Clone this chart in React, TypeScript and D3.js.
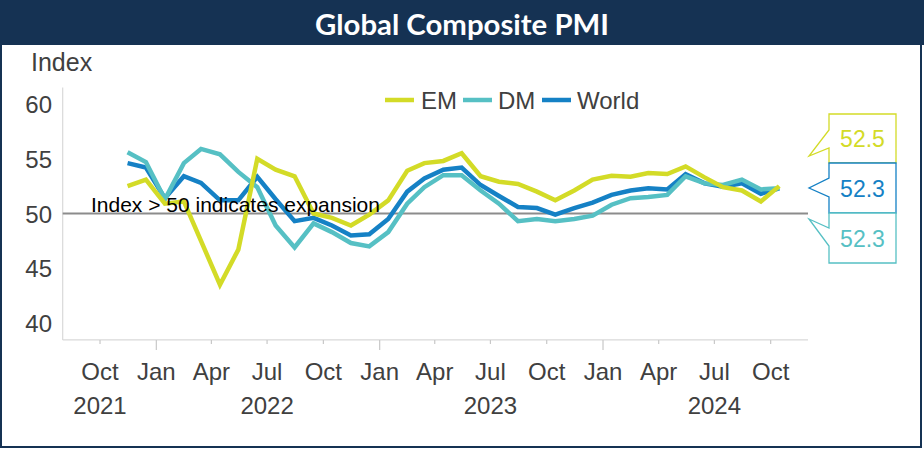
import React from "react";
import * as d3 from "d3";

const months = [
  "2021-11","2021-12","2022-01","2022-02","2022-03","2022-04","2022-05","2022-06","2022-07","2022-08","2022-09","2022-10",
  "2022-11","2022-12","2023-01","2023-02","2023-03","2023-04","2023-05","2023-06","2023-07","2023-08","2023-09","2023-10",
  "2023-11","2023-12","2024-01","2024-02","2024-03","2024-04","2024-05","2024-06","2024-07","2024-08","2024-09","2024-10",
];
const em = [
  52.5, 53.1, 50.9, 51.1, 47.5, 43.5, 46.7, 55.0, 54.0, 53.4, 50.0, 49.6,
  48.9, 49.9, 51.2, 53.9, 54.6, 54.8, 55.5, 53.4, 52.9, 52.7, 52.0, 51.2,
  52.1, 53.1, 53.45, 53.35, 53.7, 53.6, 54.3, 53.3, 52.4, 52.1, 51.1, 52.5,
];
const dm = [
  55.6, 54.7, 51.3, 54.6, 55.9, 55.4, 53.8, 52.4, 48.9, 46.9, 49.1, 48.3,
  47.3, 47.0, 48.3, 50.9, 52.4, 53.5, 53.5, 52.1, 50.9, 49.3, 49.5, 49.3,
  49.5, 49.8, 50.8, 51.4, 51.5, 51.7, 53.4, 52.75, 52.6, 53.1, 52.2, 52.3,
];
const world = [
  54.6, 54.2, 51.4, 53.4, 52.8, 51.2, 51.2, 53.35, 51.3, 49.3, 49.6, 48.9,
  48.0, 48.1, 49.5, 52.0, 53.2, 54.0, 54.2, 52.6, 51.6, 50.6, 50.5, 49.9,
  50.5, 51.0, 51.7, 52.1, 52.3, 52.2, 53.6, 52.75, 52.45, 52.75, 51.8, 52.3,
];
const seriesNames = ["EM", "DM", "World"];
const yTicks = [40, 45, 50, 55, 60];
const xTickMonths = [
  "2021-10","2022-01","2022-04","2022-07","2022-10","2023-01","2023-04","2023-07","2023-10","2024-01","2024-04","2024-07","2024-10",
];
const xTickLabels = ["Oct","Jan","Apr","Jul","Oct","Jan","Apr","Jul","Oct","Jan","Apr","Jul","Oct"];
const yearLabels = ["2021", "2022", "2023", "2024"];
const yearLabelMonths = ["2021-10", "2022-07", "2023-07", "2024-07"];
const threshold = 50;

const COLORS: Record<string, string> = { EM: "#d3db27", DM: "#56c0c4", World: "#1581c5" };
const FONT = "'Liberation Sans', Arial, sans-serif";

const parseMonth = d3.timeParse("%Y-%m");

export default function App() {
  const W = 924, H = 450;
  const x = d3
    .scaleTime()
    .domain([new Date(2021, 7, 1), new Date(2024, 11, 1)])
    .range([62.7, 808]);
  const y = d3.scaleLinear().domain([40, 60]).range([323, 104]);
  const mid = (m: string) => d3.timeDay.offset(parseMonth(m) as Date, 14);
  const tickX = (m: string) => x(parseMonth(m) as Date);

  const line = d3
    .line<number>()
    .x((_, i) => x(mid(months[i])))
    .y((v) => y(v));

  const data: Record<string, number[]> = { EM: em, DM: dm, World: world };
  const drawOrder = ["World", "DM", "EM"];

  const axisTop = y(61.5);
  const axisBottom = y(38.45);
  const [x0, x1] = x.range();

  const legendItems = [
    { name: seriesNames[0], lx: 385, tx: 421 },
    { name: seriesNames[1], lx: 463, tx: 498 },
    { name: seriesNames[2], lx: 542, tx: 577 },
  ];

  const callouts = [
    { name: "EM", top: 114, bottom: 163, p1: 130, tip: 156, p2: 148 },
    { name: "World", top: 163, bottom: 213, p1: 178, tip: 188, p2: 197 },
    { name: "DM", top: 213, bottom: 263, p1: 228, tip: 219, p2: 246 },
  ];
  const cL = 829, cR = 896, tipX = 809;

  return (
    <svg width={W} height={H} style={{ display: "block", position: "absolute", left: 0, top: 0 }} fontFamily={FONT}>
      <rect x={0} y={0} width={W} height={H} fill="#ffffff" />
      <rect x={0} y={0} width={W} height={45} fill="#153253" />
      <rect x={1} y={1} width={920} height={446} fill="none" stroke="#153253" strokeWidth={2} />
      <text x={462} y={35} textAnchor="middle" fill="#ffffff" fontFamily="Lato, 'Open Sans', sans-serif" fontWeight={700} fontSize={28} textLength={294} lengthAdjust="spacingAndGlyphs">
        Global Composite PMI
      </text>

      <text x={31} y={71} fill="#404040" fontSize={25}>Index</text>

      {/* axes */}
      <line x1={x0} x2={x0} y1={axisTop} y2={axisBottom} stroke="#d9d9d9" strokeWidth={1.2} />
      <line x1={x0} x2={x1} y1={axisBottom} y2={axisBottom} stroke="#d9d9d9" strokeWidth={1.2} />
      {xTickMonths.map((m, i) => {
        const major = xTickLabels[i] === "Jan";
        return (
          <line key={"t" + i} x1={tickX(m)} x2={tickX(m)} y1={axisBottom} y2={axisBottom + (major ? 10 : 4)} stroke="#c8c8c8" strokeWidth={1.2} />
        );
      })}
      {yTicks.map((t) => (
        <text key={"y" + t} x={52} y={y(t) + 9} textAnchor="end" fill="#404040" fontSize={24}>
          {t}
        </text>
      ))}
      {xTickMonths.map((m, i) => (
        <text key={"xl" + i} x={tickX(m)} y={380} textAnchor="middle" fill="#404040" fontSize={24}>
          {xTickLabels[i]}
        </text>
      ))}
      {yearLabels.map((yr, i) => (
        <text key={"yr" + i} x={tickX(yearLabelMonths[i])} y={414} textAnchor="middle" fill="#404040" fontSize={24}>
          {yr}
        </text>
      ))}

      {/* threshold */}
      <line x1={x0} x2={x1} y1={y(threshold)} y2={y(threshold)} stroke="#8c8c8c" strokeWidth={2} />

      {/* series */}
      {drawOrder.map((n) => (
        <path key={n} d={line(data[n]) || ""} fill="none" stroke={COLORS[n]} strokeWidth={4.5} strokeLinejoin="miter" strokeLinecap="butt" />
      ))}

      <text x={91} y={y(threshold) - 1.5} fill="#000000" fontSize={21}>
        Index &gt; 50 indicates expansion
      </text>

      {/* legend */}
      {legendItems.map((it) => (
        <g key={it.name}>
          <line x1={it.lx} x2={it.lx + 29} y1={100} y2={100} stroke={COLORS[it.name]} strokeWidth={4.5} />
          <text x={it.tx} y={109} fill="#404040" fontSize={24}>
            {it.name}
          </text>
        </g>
      ))}

      {/* callouts */}
      {callouts.map((c) => {
        const vals = data[c.name];
        const last = vals[vals.length - 1];
        const d = `M${cL},${c.top} H${cR} V${c.bottom} H${cL} V${c.p2} L${tipX},${c.tip} L${cL},${c.p1} Z`;
        return (
          <g key={"c" + c.name}>
            <path d={d} fill="#ffffff" stroke={COLORS[c.name]} strokeWidth={1.3} />
            <text x={(cL + cR) / 2} y={(c.top + c.bottom) / 2 + 8.5} textAnchor="middle" fill={COLORS[c.name]} fontSize={23}>
              {last.toFixed(1)}
            </text>
          </g>
        );
      })}
    </svg>
  );
}
